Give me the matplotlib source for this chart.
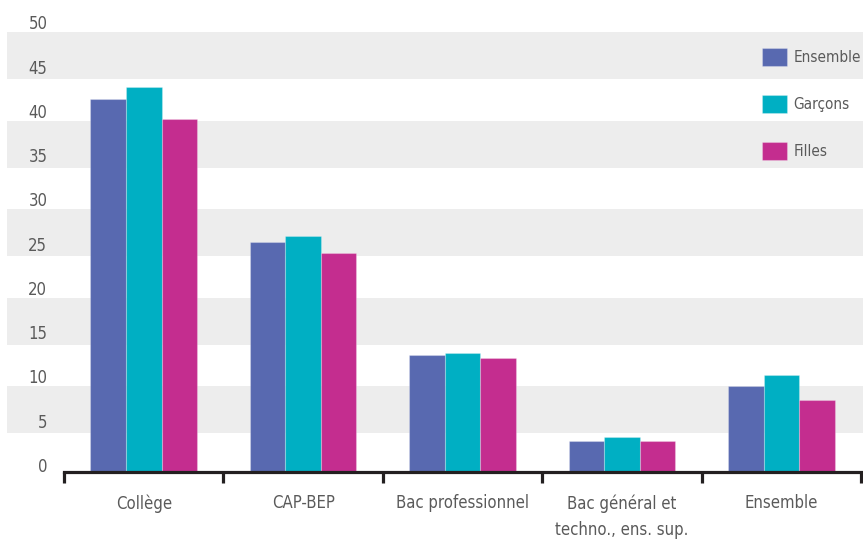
import numpy as np
import matplotlib.pyplot as plt
import matplotlib.transforms as mtransforms

plt.rcParams['font.family'] = ['DejaVu Sans']
plt.rcParams['font.stretch'] = 'condensed'

# données
categories = ["Collège", "CAP-BEP", "Bac professionnel",
              "Bac général et\ntechno., ens. sup.", "Ensemble"]
ensemble = [42.1, 26.0, 13.2, 3.5, 9.7]
garcons = [43.5, 26.7, 13.4, 3.9, 10.9]
filles = [39.9, 24.7, 12.9, 3.5, 8.1]
series = [("Ensemble", ensemble, "#5869b0"),
          ("Garçons", garcons, "#00afc3"),
          ("Filles", filles, "#c42d8f")]
yticks = [0, 5, 10, 15, 20, 25, 30, 35, 40, 45, 50]

fig = plt.figure(figsize=(8.63, 5.45), dpi=100)
ax = fig.add_axes([0.0742, 0.134, 0.9235, 0.812])

# bandes grises
for k in range(5):
    ax.axhspan(10 * k + 4.4, 10 * k + 9.7, xmin=-0.0715, xmax=1.01,
               color="#ededed", zorder=0, clip_on=False, lw=0)

x = np.arange(len(categories)) + 0.5
w = 0.223
for i, (nom, vals, col) in enumerate(series):
    ax.bar(x + (i - 1) * w, vals, w, color=col, label=nom, zorder=2,
           edgecolor=(1, 1, 1, 0.25), linewidth=0.8)

ax.set_xlim(0, 5)
ax.set_ylim(0, 50)

for s in ["left", "right", "top"]:
    ax.spines[s].set_visible(False)
ax.spines["bottom"].set_color("#231f20")
ax.spines["bottom"].set_linewidth(2.3)
ax.spines["bottom"].set_zorder(3)

ax.set_yticks(yticks)
ax.tick_params(axis="y", length=0, pad=12, labelsize=12, labelcolor="#5a5a5a")
off = mtransforms.ScaledTranslation(0, 7 / 100, fig.dpi_scale_trans)
for lab in ax.get_yticklabels():
    lab.set_transform(lab.get_transform() + off)

ax.set_xticks(np.arange(6))
ax.set_xticklabels([])
ax.tick_params(axis="x", which="major", length=8, width=2.3, color="#231f20",
               direction="out")
ax.set_xticks(x, minor=True)
ax.set_xticklabels(categories, minor=True)
ax.tick_params(axis="x", which="minor", length=0, pad=16, labelsize=12,
               labelcolor="#5a5a5a")
for lab in ax.get_xticklabels(minor=True):
    lab.set_verticalalignment("top")
    lab.set_linespacing(1.6)

leg = fig.legend(loc="upper left", bbox_to_anchor=(756 / 863, 1 - 42 / 545),
                 frameon=False, fontsize=11, handlelength=1.65,
                 handleheight=1.45, labelspacing=1.88, handletextpad=0.4,
                 borderaxespad=0)
for t in leg.get_texts():
    t.set_color("#5a5a5a")

fig.savefig("out.png", dpi=100)
